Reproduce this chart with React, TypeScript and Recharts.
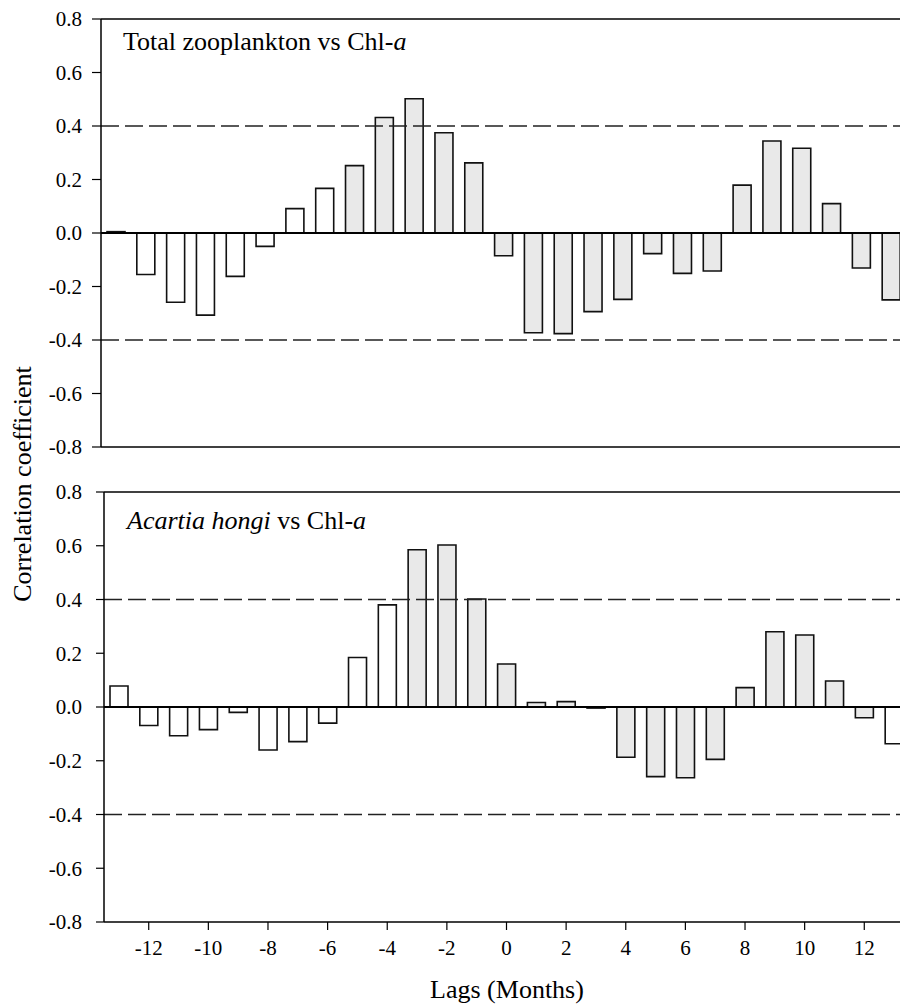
import React from "react";
import { BarChart, Bar, XAxis, YAxis, ReferenceLine, Cell } from "recharts";

const lags = [-13, -12, -11, -10, -9, -8, -7, -6, -5, -4, -3, -2, -1, 0, 1, 2, 3, 4, 5, 6, 7, 8, 9, 10, 11, 12, 13];
const totalZooplankton = [0.005, -0.155, -0.259, -0.307, -0.162, -0.05, 0.091, 0.167, 0.252, 0.432, 0.502, 0.375, 0.262, -0.085, -0.373, -0.376, -0.294, -0.248, -0.077, -0.151, -0.142, 0.179, 0.344, 0.317, 0.11, -0.131, -0.25];
const acartiaHongi = [0.078, -0.069, -0.107, -0.084, -0.02, -0.16, -0.129, -0.06, 0.184, 0.38, 0.585, 0.603, 0.402, 0.16, 0.017, 0.02, -0.004, -0.187, -0.259, -0.263, -0.195, 0.072, 0.28, 0.268, 0.097, -0.04, -0.137];
const yTicks = [-0.8, -0.6, -0.4, -0.2, 0, 0.2, 0.4, 0.6, 0.8];
const xTicks = [-12, -10, -8, -6, -4, -2, 0, 2, 4, 6, 8, 10, 12];
const significance = [0.4, -0.4];

const topData = lags.map((lag, i) => ({ lag, r: totalZooplankton[i] }));
const bottomData = lags.map((lag, i) => ({ lag, r: acartiaHongi[i] }));

const FONT = "Liberation Serif, DejaVu Serif, serif";
const tickStyle = { fill: "#000", fontSize: 21, fontFamily: FONT };
const GRAY = "#e9e9e9";

function Panel({ data, height, margin, showXLabels, shade, yTickSize, yTickMargin }) {
  return (
    <BarChart width={920} height={height} data={data} margin={margin}>
      <XAxis
        dataKey="lag"
        type="number"
        domain={[-13.5, 13.5]}
        ticks={xTicks}
        allowDataOverflow
        height={showXLabels ? 40 : 20}
        tick={showXLabels ? tickStyle : false}
        tickSize={8}
        tickMargin={10}
        axisLine={{ stroke: "#000", strokeWidth: 1.5 }}
        tickLine={{ stroke: "#000", strokeWidth: 1.2 }}
      />
      <YAxis
        type="number"
        domain={[-0.8, 0.8]}
        ticks={yTicks}
        width={60}
        tick={tickStyle}
        tickSize={yTickSize}
        tickMargin={yTickMargin}
        tickFormatter={(v) => Number(v).toFixed(1)}
        axisLine={{ stroke: "#000", strokeWidth: 1.5 }}
        tickLine={{ stroke: "#000", strokeWidth: 1.2 }}
        interval={0}
      />
      {significance.map((s) => (
        <ReferenceLine key={s} y={s} stroke="#222" strokeWidth={1.3} strokeDasharray="18 6" />
      ))}
      <ReferenceLine y={0.8} stroke="#000" strokeWidth={1.5} />
      <Bar dataKey="r" barSize={18} stroke="#111" strokeWidth={1.6} isAnimationActive={false}>
        {data.map((d) => (
          <Cell key={d.lag} fill={shade(d.lag) ? GRAY : "#fff"} />
        ))}
      </Bar>
      <ReferenceLine y={0} stroke="#000" strokeWidth={2} />
    </BarChart>
  );
}

export default function App() {
  return (
    <div style={{ position: "absolute", left: 0, top: 0, width: 900, height: 1008, overflow: "hidden", background: "#fff", fontFamily: FONT }}>
      <div style={{ position: "absolute", left: 0, top: 0 }}>
        <Panel
          data={topData}
          height={470}
          margin={{ top: 19, right: 14, left: 41, bottom: 3 }}
          showXLabels={false}
          shade={(lag) => lag >= -5}
          yTickSize={9}
          yTickMargin={10}
        />
      </div>
      <div style={{ position: "absolute", left: 0, top: 470 }}>
        <Panel
          data={bottomData}
          height={538}
          margin={{ top: 22, right: 11, left: 44, bottom: 46 }}
          showXLabels={true}
          shade={(lag) => lag >= -3 && lag <= 12}
          yTickSize={8}
          yTickMargin={14}
        />
      </div>
      <svg
        width={900}
        height={1008}
        style={{ position: "absolute", left: 0, top: 0, pointerEvents: "none", fontFamily: FONT }}
      >
        <text x={123} y={50} fontSize={26} fill="#000" style={{ fontFamily: FONT }}>
          Total zooplankton vs Chl-<tspan fontStyle="italic">a</tspan>
        </text>
        <text x={127} y={529} fontSize={26} fill="#000" style={{ fontFamily: FONT }}>
          <tspan fontStyle="italic">Acartia hongi</tspan> vs Chl-<tspan fontStyle="italic">a</tspan>
        </text>
        <text transform="translate(31, 484) rotate(-90)" textAnchor="middle" fontSize={26} fill="#000" style={{ fontFamily: FONT }}>
          Correlation coefficient
        </text>
        <text x={507} y={998} textAnchor="middle" fontSize={26} fill="#000" style={{ fontFamily: FONT }}>
          Lags (Months)
        </text>
      </svg>
    </div>
  );
}
